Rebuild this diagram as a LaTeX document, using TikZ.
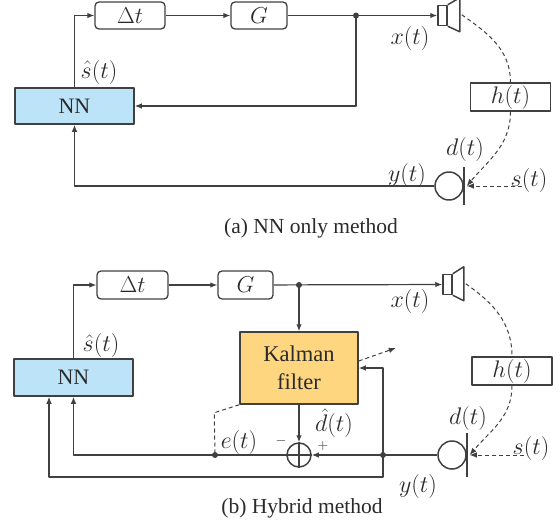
\RequirePackage{fix-cm}
\documentclass[tikz,border=0pt]{standalone}
\usepackage{fontspec}
\setmainfont{Liberation Serif}
\usetikzlibrary{arrows.meta}
\definecolor{lc}{HTML}{404040}
\definecolor{txt}{HTML}{2A2A2A}
\definecolor{nnblue}{HTML}{BDE3F8}
\definecolor{kalor}{HTML}{FED67F}
\begin{document}
\begin{tikzpicture}[x=1pt,y=1pt, line join=round,
  lab/.style={font=\fontsize{24}{28}\selectfont, inner sep=0pt, text=txt},
  sgn/.style={font=\fontsize{14}{16}\selectfont, inner sep=0pt, text=txt},
  captxt/.style={font=\fontsize{21.5}{26}\selectfont, inner sep=0pt, text=txt},
  wire/.style={draw=lc, line width=1.2pt},
  arr/.style={wire, -{Latex[length=7pt,width=5.5pt]}},
  dsh/.style={draw=lc, line width=1pt, dash pattern=on 4pt off 3pt},
  darr/.style={dsh, -{Latex[length=7pt,width=5.5pt]}},
  rbox/.style={draw=lc, line width=1.3pt, rounded corners=4pt, inner sep=0pt, minimum height=27pt, font=\fontsize{23}{27}\selectfont, text=txt},
  nnbox/.style={draw=lc, line width=1.5pt, fill=nnblue, inner sep=0pt, minimum width=119pt, minimum height=36pt, font=\fontsize{22}{26}\selectfont, text=txt},
  kbox/.style={draw=lc, line width=1.5pt, fill=kalor, inner sep=0pt, minimum width=118pt, minimum height=72pt, align=center, font=\fontsize{22.5}{28}\selectfont, text=txt},
  hbox/.style={draw=lc, line width=1.2pt, inner sep=0pt, minimum width=80pt, minimum height=28pt, font=\fontsize{24}{28}\selectfont, text=txt},
  dot/.style={circle, fill=lc, inner sep=0pt, minimum size=6pt},
  micc/.style={circle, draw=lc, line width=1.5pt, minimum size=28pt, inner sep=0pt},
  sumc/.style={circle, draw=lc, line width=1.5pt, minimum size=24pt, inner sep=0pt},
  spkbox/.style={draw=lc, line width=1.5pt, minimum width=9pt, minimum height=20pt, inner sep=0pt},
  spk/.style={draw=lc, line width=1.5pt},
  bar/.style={draw=lc, line width=1.5pt}
]
\useasboundingbox (0,0) rectangle (560,-525);

% ---------------- (a) ----------------
\node[rbox, minimum width=70pt] (dt1) at (130,-15.5) {$\Delta t$};
\node[rbox, minimum width=56pt] (g1) at (259,-15.5) {$G$};
\node[spkbox] (spk1) at (442.5,-15.5) {};
\draw[spk] (spk1.north east) -- ++(12,7) -- ++(0,-17) coordinate (cone1) -- ++(0,-17) -- (spk1.south east);
\node[nnbox] (nn1) at (74.5,-106) {NN};
\node[dot] (j1) at (356,-15.5) {};
\node[hbox] (h1) at (510.5,-97) {$h(t)$};
\node[micc] (mic1) at (449,-186) {};
\draw[bar] (mic1.east) ++(0,-19) -- ++(0,38);
\coordinate (m1) at ([xshift=3pt]mic1.east);
\coordinate (s1) at (522,-186);

\draw[arr] (dt1) -- (g1);
\draw[arr] (g1) -- (spk1);
\draw[arr] (j1.center) |- (nn1.east);
\draw[arr] (nn1.north) |- (dt1.west);
\draw[arr] (mic1.west) -| (nn1.south);
\draw[dsh] ([xshift=2pt]cone1) to[out=-35,in=90] (h1.north);
\draw[darr] (h1.south) to[out=-90,in=50] (m1);
\draw[darr] (s1) -- (m1);

\node[lab] (sh1) at (99,-72) {$\hat{s}(t)$};
\node[lab] (x1) at (410,-38) {$x(t)$};
\node[lab] (y1) at (407,-175) {$y(t)$};
\node[lab] (d1) at (465,-149) {$d(t)$};
\node[lab] (ss1) at (529,-180) {$s(t)$};
\node[captxt] (capa) at (311,-228) {(a) NN only method};

% ---------------- (b) ----------------
\node[rbox, minimum width=71pt, minimum height=28pt] (dt2) at (132.5,-285) {$\Delta t$};
\node[rbox, minimum width=55pt, minimum height=28pt] (g2) at (245.5,-285) {$G$};
\node[spkbox] (spk2) at (447.5,-284.5) {};
\draw[spk] (spk2.north east) -- ++(11,7) -- ++(0,-17) coordinate (cone2) -- ++(0,-17) -- (spk2.south east);
\node[kbox] (kal) at (299,-368) {Kalman\\filter};
\node[nnbox, minimum height=37pt] (nn2) at (73.5,-377.5) {NN};
\node[dot] (j2) at (299,-285) {};
\node[sumc] (sum) at (299,-455) {};
\draw[wire] (sum.north) -- (sum.south) (sum.west) -- (sum.east);
\node[micc] (mic2) at (452,-455) {};
\draw[bar] (mic2.east) ++(0,-22) -- ++(0,44);
\node[dot] (j3) at (383,-455) {};
\node[dot] (j4) at (215,-455) {};
\node[hbox] (h2) at (512,-371) {$h(t)$};
\coordinate (m2) at ([xshift=3pt]mic2.east);
\coordinate (s2) at (524,-455);

\draw[arr] (dt2) -- (g2);
\draw[arr] (g2) -- (spk2);
\draw[arr] (j2.center) -- (kal.north);
\draw[arr] (nn2.north) |- (dt2.west);
\draw[arr] (kal.south) -- (sum.north);
\draw[wire] (mic2.west) -- (j3.center);
\draw[arr] (j3.center) -- (sum.east);
\draw[arr] (j3.center) |- (kal.east);
\draw[arr] (j3.center) -- ++(0,-22) -| ([xshift=-24.5pt]nn2.south);
\draw[arr] (sum.west) -| (nn2.south);
\draw[dsh] (kal.south west) -- ++(-25,-8) -- (j4.center);
\draw[darr] ([yshift=7pt]kal.east) -- ++(37,13);
\draw[dsh] ([xshift=2pt]cone2) to[out=-35,in=90] (h2.north);
\draw[darr] (h2.south) to[out=-90,in=50] (m2);
\draw[darr] (s2) -- (m2);

\node[lab] (sh2) at (101,-345) {$\hat{s}(t)$};
\node[lab] (x2) at (410,-301) {$x(t)$};
\node[lab] (y2) at (418,-486) {$y(t)$};
\node[lab] (d2) at (468,-418) {$d(t)$};
\node[lab] (ss2) at (531,-448) {$s(t)$};
\node[lab] (e2) at (239,-442) {$e(t)$};
\node[lab] (dh2) at (334,-423) {$\hat{d}(t)$};
\node[sgn] (mn) at (281,-441) {$-$};
\node[sgn] (pl) at (323,-446) {$+$};
\node[captxt] (capb) at (302,-508) {(b) Hybrid method};
\end{tikzpicture}
\end{document}
